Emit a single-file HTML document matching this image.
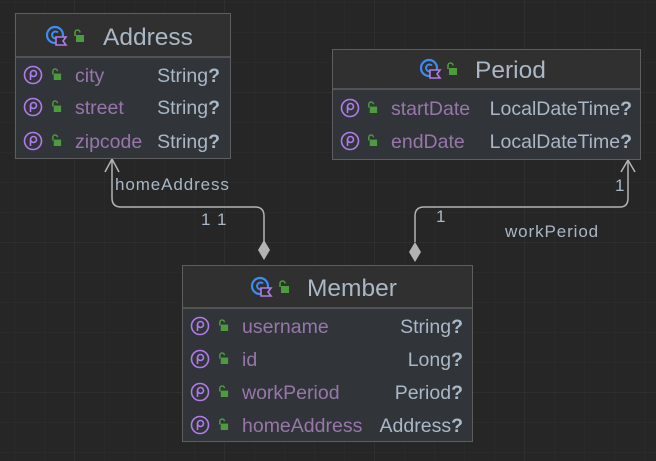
<!DOCTYPE html>
<html><head><meta charset="utf-8"><style>
html,body{margin:0;padding:0;background:#262626;}
svg{display:block}
text{font-family:"Liberation Sans",sans-serif;}
.t{font-size:24.5px;fill:#a9b7c6}
.n{font-size:19.5px;fill:#9876aa}
.ty{font-size:19.5px;fill:#a9b7c6;text-anchor:end}
.l{font-size:17px;fill:#a9b7c6;letter-spacing:0.9px}
</style></head><body>
<svg width="656" height="461" viewBox="0 0 656 461" xmlns="http://www.w3.org/2000/svg">
<defs>
<pattern id="g" x="14" y="2" width="30" height="30" patternUnits="userSpaceOnUse">
<path d="M0 0H30M0 0V30" stroke="#2e2e2e" stroke-width="1" fill="none"/>
</pattern>
<pattern id="G" x="74" y="92" width="150" height="150" patternUnits="userSpaceOnUse">
<path d="M0 0H150M0 0V150" stroke="#353535" stroke-width="1" fill="none"/>
</pattern>
<symbol id="cls" viewBox="0 0 24 24">
<circle cx="10" cy="10" r="8" fill="none" stroke="#3f8cf0" stroke-width="2.2"/>
<path d="M13 7.5A3.5 3.5 0 1 0 13 12.5" fill="none" stroke="#3f8cf0" stroke-width="2"/>
<path d="M11 12H21L18 16L21 20H11Z" fill="#2b2b2b" stroke="#b07be8" stroke-width="1.6"/>
</symbol>
<symbol id="lk" viewBox="0 0 12 14">
<path d="M2 7V3.5A2.5 2.5 0 0 1 7 3.5" fill="none" stroke="#4e9a3e" stroke-width="1.6"/>
<rect x="3" y="6" width="8" height="7" fill="#4e9a3e"/>
</symbol>
<symbol id="p" viewBox="0 0 20 20">
<circle cx="10" cy="10" r="8.5" fill="none" stroke="#b07be8" stroke-width="1.6"/>
<circle cx="10.5" cy="8.5" r="3" fill="none" stroke="#b07be8" stroke-width="1.6"/>
<path d="M7.5 8.5V15" stroke="#b07be8" stroke-width="1.6"/>
</symbol>
</defs>
<rect width="656" height="461" fill="#262626"/>
<rect width="656" height="461" fill="url(#g)"/>
<rect width="656" height="461" fill="url(#G)"/>

<g fill="none" stroke="#b3b3b3" stroke-width="1.5">
<path d="M264 242V216Q264 207 255 207H121Q112 207 112 198V159"/>
<path d="M105 172L112 159L119 172"/>
<path d="M415 242V216Q415 207 424 207H620Q628 207 628 198V160"/>
<path d="M621 172L628 160L635 172"/>
</g>
<path d="M264 240L270 250L264 260L258 250Z" fill="#b3b3b3"/>
<path d="M415 242L421 252L415 262L409 252Z" fill="#b3b3b3"/>
<text class="l" x="115" y="190">homeAddress</text>
<text class="l" x="201" y="225">1 1</text>
<text class="l" x="615" y="191">1</text>
<text class="l" x="436" y="222">1</text>
<text class="l" x="505" y="237">workPeriod</text>

<!-- Address -->
<rect x="15.5" y="13.5" width="215" height="145" fill="#31353a" stroke="#5e5e5e"/>
<rect x="16" y="14" width="214" height="43" fill="#303030"/>
<line x1="16" y1="57" x2="230" y2="57" stroke="#5e5e5e" stroke-width="1.5"/>
<use href="#cls" x="45" y="25" width="24" height="24"/>
<use href="#lk" x="73" y="29" width="12" height="14"/>
<text class="t" x="103" y="45">Address</text>
<use href="#p" x="23" y="65" width="20" height="20"/><use href="#lk" x="51" y="68" width="11" height="13"/>
<text class="n" x="75" y="82">city</text><text class="ty" x="220" y="82">String<tspan font-weight="bold">?</tspan></text>
<use href="#p" x="23" y="97" width="20" height="20"/><use href="#lk" x="51" y="100" width="11" height="13"/>
<text class="n" x="75" y="114">street</text><text class="ty" x="220" y="114">String<tspan font-weight="bold">?</tspan></text>
<use href="#p" x="23" y="131" width="20" height="20"/><use href="#lk" x="51" y="134" width="11" height="13"/>
<text class="n" x="75" y="148">zipcode</text><text class="ty" x="220" y="148">String<tspan font-weight="bold">?</tspan></text>

<!-- Period -->
<rect x="332.5" y="49.5" width="308" height="110" fill="#31353a" stroke="#5e5e5e"/>
<rect x="333" y="50" width="307" height="39" fill="#303030"/>
<line x1="333" y1="89" x2="640" y2="89" stroke="#5e5e5e" stroke-width="1.5"/>
<use href="#cls" x="419" y="58" width="24" height="24"/>
<use href="#lk" x="446" y="62" width="12" height="14"/>
<text class="t" x="475" y="78">Period</text>
<use href="#p" x="340" y="98" width="20" height="20"/><use href="#lk" x="367" y="101" width="11" height="13"/>
<text class="n" x="391" y="115">startDate</text><text class="ty" x="632" y="115">LocalDateTime<tspan font-weight="bold">?</tspan></text>
<use href="#p" x="340" y="131" width="20" height="20"/><use href="#lk" x="367" y="134" width="11" height="13"/>
<text class="n" x="391" y="148">endDate</text><text class="ty" x="632" y="148">LocalDateTime<tspan font-weight="bold">?</tspan></text>

<!-- Member -->
<rect x="182.5" y="265.5" width="290" height="176" fill="#31353a" stroke="#5e5e5e"/>
<rect x="183" y="266" width="289" height="42" fill="#303030"/>
<line x1="183" y1="308" x2="472" y2="308" stroke="#5e5e5e" stroke-width="1.5"/>
<use href="#cls" x="250" y="276" width="24" height="24"/>
<use href="#lk" x="278" y="280" width="12" height="14"/>
<text class="t" x="307" y="296">Member</text>
<use href="#p" x="190" y="316" width="20" height="20"/><use href="#lk" x="218" y="319" width="11" height="13"/>
<text class="n" x="242" y="333">username</text><text class="ty" x="463" y="333">String<tspan font-weight="bold">?</tspan></text>
<use href="#p" x="190" y="349" width="20" height="20"/><use href="#lk" x="218" y="352" width="11" height="13"/>
<text class="n" x="242" y="366">id</text><text class="ty" x="463" y="366">Long<tspan font-weight="bold">?</tspan></text>
<use href="#p" x="190" y="382" width="20" height="20"/><use href="#lk" x="218" y="385" width="11" height="13"/>
<text class="n" x="242" y="399">workPeriod</text><text class="ty" x="463" y="399">Period<tspan font-weight="bold">?</tspan></text>
<use href="#p" x="190" y="415" width="20" height="20"/><use href="#lk" x="218" y="418" width="11" height="13"/>
<text class="n" x="242" y="432">homeAddress</text><text class="ty" x="463" y="432">Address<tspan font-weight="bold">?</tspan></text>
</svg>
</body></html>
